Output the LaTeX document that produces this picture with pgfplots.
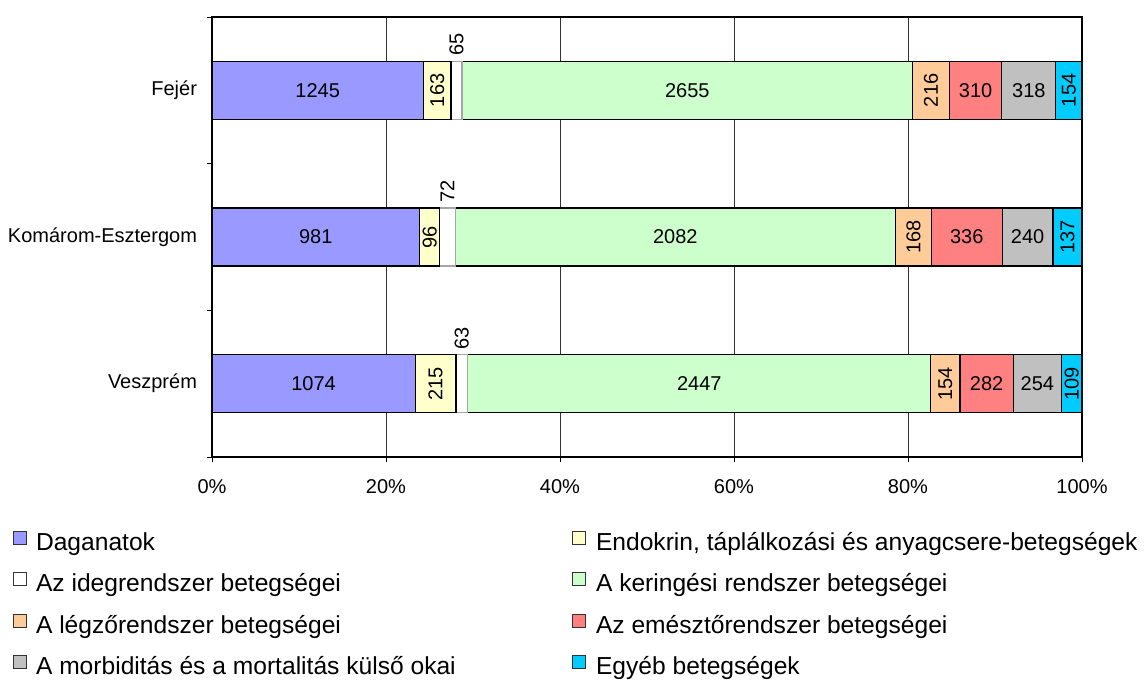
\documentclass[border=0pt]{standalone}
\usepackage{fontspec}
\setmainfont{Liberation Sans}
\usepackage{pgfplots}
\usepackage{pgfplotstable}
\pgfplotsset{compat=1.18}
\definecolor{cDag}{HTML}{9999FF}
\definecolor{cEnd}{HTML}{FFFFCC}
\definecolor{cIde}{HTML}{FFFFFF}
\definecolor{cKer}{HTML}{CCFFCC}
\definecolor{cLeg}{HTML}{FFCC99}
\definecolor{cEme}{HTML}{FF8080}
\definecolor{cKul}{HTML}{C0C0C0}
\definecolor{cEgy}{HTML}{00CCFF}
\pgfplotstableread{
y t dag endo ide ker leg eme kul egy
0 4598 1074 215 63 2447 154 282 254 109
1 4112 981 96 72 2082 168 336 240 137
2 5126 1245 163 65 2655 216 310 318 154
}\data
\begin{document}
\begin{tikzpicture}
\useasboundingbox (0,0) rectangle (572pt,343pt);
\pgfplotsset{
  common/.style={
    scale only axis, width=435pt, height=220pt,
    at={(106pt,114.5pt)}, anchor=south west,
    xmin=0, xmax=100, ymin=-0.5, ymax=2.5,
    /pgf/number format/assume math mode=true,
    /pgf/number format/1000 sep={},
  },
  segbar/.style={fill=#1, draw=black, line width=0.6pt},
}
\begin{axis}[common,
  xbar stacked, bar width=0.395,
  axis line style={black, line width=0.6pt},
  xmajorgrids, major grid style={black!80, line width=0.5pt},
  tick align=outside, major tick length=2.5pt, minor tick length=2.5pt,
  xtick pos=left, ytick pos=left,
  tick style={black, line width=0.5pt},
  xtick={0,20,40,60,80,100},
  xticklabel={\pgfmathprintnumber{\tick}\%},
  xticklabel style={yshift=-5pt},
  ytick={-0.5,0.5,1.5,2.5}, yticklabels={,,,},
  extra y ticks={0,1,2},
  extra y tick labels={Veszprém,Komárom-Esztergom,Fejér},
  extra y tick style={major tick length=0pt, yticklabel style={xshift=-4pt}},
  tick label style={font=\fontsize{10}{12}\selectfont},
  legend columns=2, legend cell align=left,
  legend image code/.code={\draw[#1, draw=black!80, line width=0.5pt] (0pt,0pt) rectangle (6.5pt,6.5pt);},
  legend style={at={(-0.2287,-0.168)}, anchor=north west, draw=none, fill=none,
    inner sep=0pt, outer sep=0pt, column sep=0pt, row sep=7.9pt,
    nodes={inner sep=0pt, text height=9pt, text depth=3pt, font=\fontsize{12.3}{14}\selectfont}},
]
\addplot[segbar=cDag] table[x expr=\thisrow{dag}/\thisrow{t}*100, y=y] \data;
\addlegendentry{\makebox[272.5pt][l]{\hspace{4.5pt}Daganatok}}
\addplot[segbar=cEnd] table[x expr=\thisrow{endo}/\thisrow{t}*100, y=y] \data;
\addlegendentry{\hspace{5pt}Endokrin, táplálkozási és anyagcsere-betegségek}
\addplot[fill=cIde, draw=gray!70, line width=0.6pt] table[x expr=\thisrow{ide}/\thisrow{t}*100, y=y] \data;
\addlegendentry{\makebox[272.5pt][l]{\hspace{4.5pt}Az idegrendszer betegségei}}
\addplot[segbar=cKer] table[x expr=\thisrow{ker}/\thisrow{t}*100, y=y] \data;
\addlegendentry{\hspace{5pt}A keringési rendszer betegségei}
\addplot[segbar=cLeg] table[x expr=\thisrow{leg}/\thisrow{t}*100, y=y] \data;
\addlegendentry{\makebox[272.5pt][l]{\hspace{4.5pt}A légzőrendszer betegségei}}
\addplot[segbar=cEme] table[x expr=\thisrow{eme}/\thisrow{t}*100, y=y] \data;
\addlegendentry{\hspace{5pt}Az emésztőrendszer betegségei}
\addplot[segbar=cKul] table[x expr=\thisrow{kul}/\thisrow{t}*100, y=y] \data;
\addlegendentry{\makebox[272.5pt][l]{\hspace{4.5pt}A morbiditás és a mortalitás külső okai}}
\addplot[segbar=cEgy] table[x expr=\thisrow{egy}/\thisrow{t}*100, y=y] \data;
\addlegendentry{\hspace{5pt}Egyéb betegségek}
\end{axis}
\begin{axis}[common, hide axis, clip=false,
  every node near coord/.append style={font=\fontsize{10}{12}\selectfont, anchor=center, inner sep=0pt, text=black},
]
\addplot[draw=none, nodes near coords, point meta=\thisrow{dag}]
  table[x expr=(\thisrow{dag}/2)/\thisrow{t}*100, y=y] \data;
\addplot[draw=none, nodes near coords, point meta=\thisrow{endo}, every node near coord/.append style={rotate=90}]
  table[x expr=(\thisrow{dag}+\thisrow{endo}/2)/\thisrow{t}*100, y=y] \data;
\addplot[draw=none, nodes near coords, point meta=\thisrow{ide}, every node near coord/.append style={rotate=90, anchor=west, inner sep=2.5pt}]
  table[x expr=(\thisrow{dag}+\thisrow{endo}+\thisrow{ide}/2)/\thisrow{t}*100, y expr=\thisrow{y}+0.1975] \data;
\addplot[draw=none, nodes near coords, point meta=\thisrow{ker}]
  table[x expr=(\thisrow{dag}+\thisrow{endo}+\thisrow{ide}+\thisrow{ker}/2)/\thisrow{t}*100, y=y] \data;
\addplot[draw=none, nodes near coords, point meta=\thisrow{leg}, every node near coord/.append style={rotate=90}]
  table[x expr=(\thisrow{dag}+\thisrow{endo}+\thisrow{ide}+\thisrow{ker}+\thisrow{leg}/2)/\thisrow{t}*100, y=y] \data;
\addplot[draw=none, nodes near coords, point meta=\thisrow{eme}]
  table[x expr=(\thisrow{dag}+\thisrow{endo}+\thisrow{ide}+\thisrow{ker}+\thisrow{leg}+\thisrow{eme}/2)/\thisrow{t}*100, y=y] \data;
\addplot[draw=none, nodes near coords, point meta=\thisrow{kul}]
  table[x expr=(\thisrow{t}-\thisrow{egy}-\thisrow{kul}/2)/\thisrow{t}*100, y=y] \data;
\addplot[draw=none, nodes near coords, point meta=\thisrow{egy}, every node near coord/.append style={rotate=90}]
  table[x expr=(\thisrow{t}-\thisrow{egy}/2)/\thisrow{t}*100, y=y] \data;
\end{axis}
\end{tikzpicture}
\end{document}
